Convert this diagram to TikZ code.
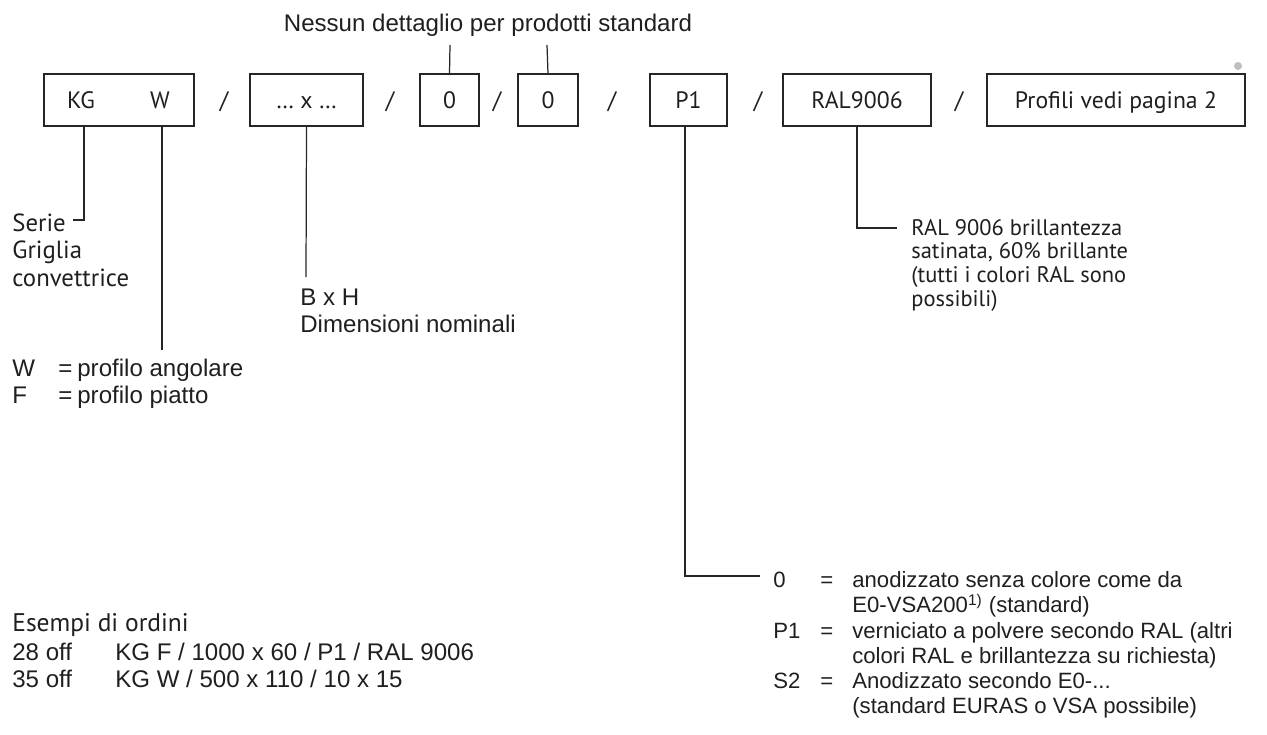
\documentclass[tikz,border=0pt]{standalone}
\usepackage{fontspec}
\setmainfont{Liberation Sans}
\newfontfamily\myriad{PT Sans}
\usetikzlibrary{positioning}

\begin{document}
\begin{tikzpicture}[
    every node/.style={text=black!88},
    codebox/.style={draw=black!85, line width=0.7pt, minimum height=1.04cm, inner sep=0pt,
      text height=9.4pt, text depth=0pt, font=\myriad\fontsize{13.5}{15}\selectfont},
    boxtext/.style={inner sep=0pt, text height=9.4pt, text depth=0pt,
      font=\myriad\fontsize{13.5}{15}\selectfont},
    lead/.style={draw=black!85, line width=0.7pt},
    helv/.style={inner sep=0pt, align=left, font=\fontsize{13.7}{15.4}\selectfont},
    myr/.style={inner sep=0pt, align=left}
  ]
  \useasboundingbox (0,0) rectangle (25.34,-14.68);

  % code boxes
  \node[codebox, minimum width=3cm] (kgw) at (2.38,-2.0) {};
  \node[boxtext] (kg) at (1.62,-2.0) {KG};
  \node[boxtext] (w) at (3.2,-2.0) {W};
  \node[codebox, minimum width=2.26cm] (dims) at (6.13,-2.0) {\dots\ x \dots};
  \node[codebox, minimum width=1.18cm] (zeroa) at (8.99,-2.0) {0};
  \node[codebox, minimum width=1.2cm] (zerob) at (10.96,-2.0) {0};
  \node[codebox, minimum width=1.54cm] (pone) at (13.77,-2.0) {P1};
  \node[codebox, minimum width=2.96cm] (ral) at (17.14,-2.0) {RAL9006};
  \node[codebox, minimum width=5.16cm] (prof) at (22.32,-2.0) {Profili vedi pagina 2};
  \foreach \x/\n in {4.48/1, 7.8/2, 9.94/3, 12.24/4, 15.16/5, 19.18/6}
    \node[boxtext] (sl\n) at (\x,-2.0) {/};
  \fill[black!25] (24.76,-1.32) circle (0.08);

  % standard note
  \node[helv] (note) at (9.76,-0.5) {Nessun dettaglio per prodotti standard};
  \coordinate (na) at (9.0,-0.9);
  \coordinate (nb) at (10.94,-0.9);
  \draw[lead] (zeroa.north) -- (na);
  \draw[lead] (zerob.north) -- (nb);

  % serie
  \coordinate (kgturn) at (1.68,-4.4);
  \coordinate (kgend) at (1.46,-4.4);
  \draw[lead] (kgturn |- kgw.south) -- (kgturn) -- (kgend);
  \node[myr, anchor=north west, font=\myriad\fontsize{14.1}{15.9}\selectfont] (serie)
    at (0.24,-4.26) {Serie\\Griglia\\convettrice};

  % profile
  \coordinate (wend) at (3.24,-7.0);
  \draw[lead] (wend |- kgw.south) -- (wend);
  \node[helv, anchor=north west] (wlab) at (0.24,-7.18)
    {\makebox[0.92cm][l]{W}\makebox[0.38cm][l]{=}profilo angolare\\
     \makebox[0.92cm][l]{F}\makebox[0.38cm][l]{=}profilo piatto};

  % nominal size
  \coordinate (dend) at (6.12,-5.54);
  \draw[lead] (dims.south) -- (dend);
  \node[helv, anchor=north west] (dlab) at (6.0,-5.78) {B x H\\Dimensioni nominali};

  % colour
  \coordinate (ralturn) at (17.14,-4.56);
  \coordinate (ralend) at (17.94,-4.56);
  \draw[lead] (ral.south) -- (ralturn) -- (ralend);
  \node[myr, anchor=north west, font=\myriad\fontsize{12.8}{13.4}\selectfont] (rallab)
    at (18.22,-4.38)
    {RAL 9006 brillantezza\\satinata, 60\% brillante\\(tutti i colori RAL sono\\possibili)};

  % surface
  \coordinate (p1turn) at (13.7,-11.52);
  \coordinate (p1end) at (15.2,-11.52);
  \draw[lead] (p1turn |- pone.south) -- (p1turn) -- (p1end);
  \node[helv, anchor=north west, font=\fontsize{12.6}{14.4}\selectfont] (p1lab)
    at (15.46,-11.42)
    {\makebox[0.94cm][l]{0}\makebox[0.64cm][l]{=}anodizzato senza colore come da\\
     \hspace*{1.58cm}E0-VSA200\textsuperscript{1)} (standard)\\
     \makebox[0.94cm][l]{P1}\makebox[0.64cm][l]{=}verniciato a polvere secondo RAL (altri\\
     \hspace*{1.58cm}colori RAL e brillantezza su richiesta)\\
     \makebox[0.94cm][l]{S2}\makebox[0.64cm][l]{=}Anodizzato secondo E0-...\\
     \hspace*{1.58cm}(standard EURAS o VSA possibile)};

  % examples
  \node[myr, anchor=north west, font=\myriad\fontsize{14.5}{16}\selectfont] (esempi)
    at (0.24,-12.26) {Esempi di ordini};
  \node[helv, anchor=north west] (ordini) at (0.24,-12.86)
    {\makebox[2.06cm][l]{28 off}KG F / 1000 x 60 / P1 / RAL 9006\\
     \makebox[2.06cm][l]{35 off}KG W / 500 x 110 / 10 x 15};
\end{tikzpicture}
\end{document}
